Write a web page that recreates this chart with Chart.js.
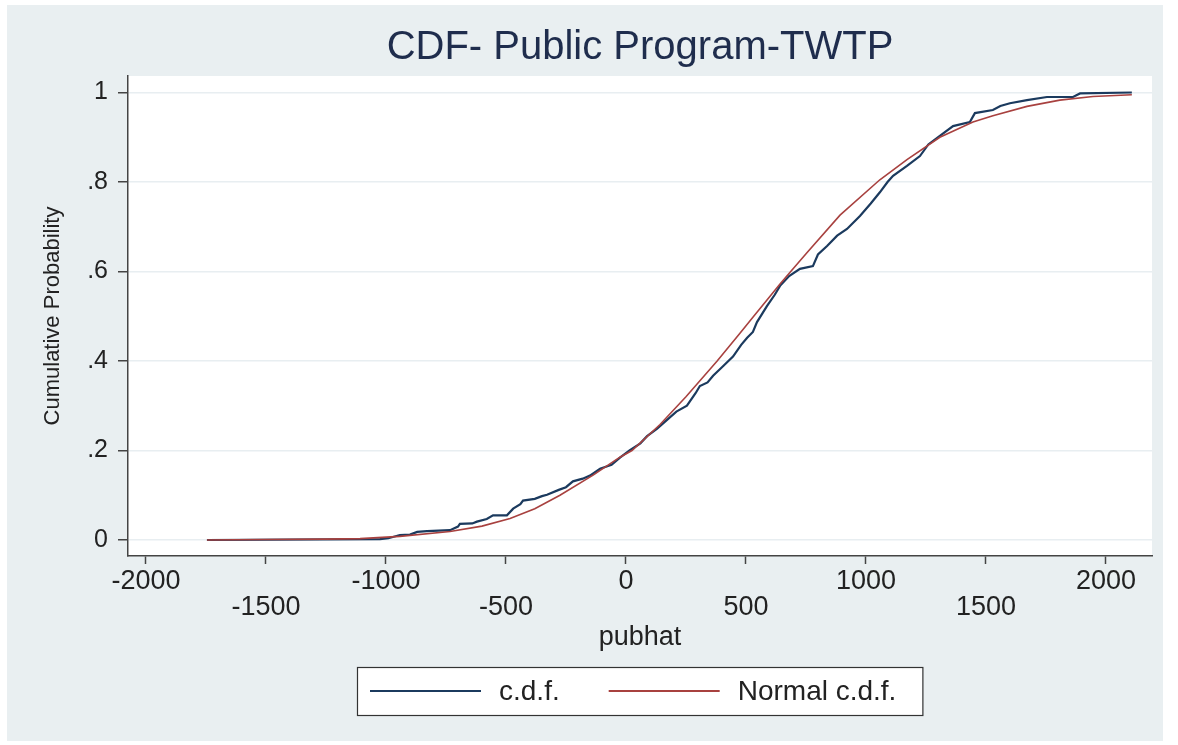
<!DOCTYPE html>
<html>
<head>
<meta charset="utf-8">
<title>CDF- Public Program-TWTP</title>
<script src="https://cdn.jsdelivr.net/npm/chart.js@4.4.1/dist/chart.umd.min.js"></script>
<style>
  html, body { margin: 0; padding: 0; background: #fff; }
  #wrap {
    position: absolute; left: 7px; top: 5px;
    width: 1156px; height: 736px;
    background: #e9eff1;
  }
</style>
</head>
<body>
<div id="wrap"><canvas id="cdfChart" width="1156" height="736"></canvas></div>
<script>
// tick values
const xTicks = [-2000, -1500, -1000, -500, 0, 500, 1000, 1500, 2000];
const yTicks = [0, 0.2, 0.4, 0.6, 0.8, 1];

const cdfX = [-1746, -1025, -990, -942, -900, -870, -829, -733, -700, -692, -640, -621, -580, -554, -496,
  -470, -440, -429, -380, -350, -329, -280, -250, -221, -180, -150, -108, -60, -25, 15, 60, 88, 130,
  170, 210, 254, 290, 308, 340, 363, 400, 446, 480, 505, 529, 546, 588, 620, 642, 680, 725, 779, 800,
  838, 880, 921, 975, 1020, 1058, 1090, 1113, 1171, 1225, 1260, 1308, 1363, 1433, 1454, 1529, 1560,
  1600, 1671, 1754, 1863, 1892, 2108];
const cdfY = [0, 0.002, 0.004, 0.011, 0.012, 0.018, 0.020, 0.022, 0.030, 0.036, 0.037, 0.041, 0.047, 0.055, 0.055,
  0.070, 0.080, 0.088, 0.092, 0.098, 0.101, 0.112, 0.118, 0.131, 0.137, 0.144, 0.159, 0.168, 0.184, 0.200, 0.216, 0.232, 0.249,
  0.268, 0.287, 0.300, 0.328, 0.344, 0.352, 0.367, 0.386, 0.410, 0.436, 0.452, 0.465, 0.487, 0.523, 0.548, 0.568, 0.590, 0.606, 0.612, 0.638,
  0.657, 0.680, 0.695, 0.724, 0.752, 0.777, 0.800, 0.814, 0.836, 0.858, 0.884, 0.903, 0.925, 0.934, 0.954, 0.961, 0.970,
  0.976, 0.983, 0.990, 0.990, 0.998, 1.000];

// normal c.d.f. curve
const normX = [-1746, -1500, -1250, -1108, -942, -733, -600, -483, -380, -275, -137, -25, 25, 142, 250, 380,
  475, 529, 642, 683, 754, 892, 1058, 1171, 1308, 1446, 1529, 1671, 1808, 1946, 2108];
const normY = [0, 0.001, 0.002, 0.003, 0.008, 0.019, 0.031, 0.048, 0.070, 0.100, 0.145, 0.185, 0.200, 0.258, 0.320, 0.400,
  0.462, 0.498, 0.572, 0.598, 0.642, 0.726, 0.805, 0.850, 0.900, 0.934, 0.948, 0.969, 0.983, 0.991, 0.995];

const FONT = '"Liberation Sans", Arial, sans-serif';
const NAVY = '#1b3a5e';
const MAROON = '#a8413f';

const toPoints = (xs, ys) => xs.map((x, i) => ({ x: x, y: ys[i] }));

// white plot region
const plotRegion = {
  id: 'plotRegion',
  beforeDraw(chart) {
    const { ctx, chartArea } = chart;
    ctx.save();
    ctx.fillStyle = '#fff';
    ctx.fillRect(chartArea.left, chartArea.top, chartArea.right - chartArea.left, chartArea.bottom - chartArea.top);
    ctx.restore();
  }
};

// Stata style boxed legend under the x axis
const boxLegend = {
  id: 'boxLegend',
  afterDraw(chart) {
    const { ctx, chartArea, scales } = chart;
    ctx.save();
    ctx.font = '28px ' + FONT;
    const items = chart.data.datasets.map(ds => ({
      label: ds.label, color: ds.borderColor, w: ctx.measureText(ds.label).width
    }));
    const padL = 13, padR = 26, sample = 111, gap = 18, itemGap = 49, h = 48;
    let width = padL + padR;
    items.forEach((it, i) => { width += sample + gap + it.w + (i ? itemGap : 0); });
    const left = Math.round((chartArea.left + chartArea.right) / 2 - width / 2);
    const top = Math.round(scales.x.bottom + 1);

    ctx.fillStyle = '#fff';
    ctx.fillRect(left, top, width, h);
    ctx.strokeStyle = '#333';
    ctx.lineWidth = 1.2;
    ctx.strokeRect(left + 0.5, top + 0.5, width, h);

    let x = left + padL;
    const cy = top + h / 2;
    items.forEach((it, i) => {
      if (i) x += itemGap;
      ctx.strokeStyle = it.color;
      ctx.lineWidth = 2;
      ctx.beginPath();
      ctx.moveTo(x, cy);
      ctx.lineTo(x + sample, cy);
      ctx.stroke();
      x += sample + gap;
      ctx.fillStyle = '#222';
      ctx.textBaseline = 'middle';
      ctx.fillText(it.label, x, cy + 1);
      x += it.w;
    });
    ctx.restore();
  }
};

const ctx = document.getElementById('cdfChart').getContext('2d');
new Chart(ctx, {
  type: 'scatter',
  data: {
    datasets: [
      {
        label: 'c.d.f.',
        data: toPoints(cdfX, cdfY),
        showLine: true,
        borderColor: NAVY,
        backgroundColor: NAVY,
        borderWidth: 2.2,
        pointRadius: 0,
        order: 1
      },
      {
        label: 'Normal c.d.f.',
        data: toPoints(normX, normY),
        showLine: true,
        borderColor: MAROON,
        backgroundColor: MAROON,
        borderWidth: 1.6,
        pointRadius: 0,
        order: 0
      }
    ]
  },
  options: {
    responsive: false,
    animation: false,
    layout: { padding: { left: 0, right: 11, top: 0, bottom: 75 } },
    plugins: {
      legend: { display: false },
      tooltip: { enabled: false },
      title: {
        display: true,
        text: 'CDF- Public Program-TWTP',
        fullSize: false,
        color: '#1f2d4d',
        font: { family: FONT, size: 40, weight: 'normal' },
        padding: { top: 19, bottom: 4 }
      }
    },
    scales: {
      x: {
        type: 'linear',
        min: -2075,
        max: 2192,
        afterBuildTicks: axis => { axis.ticks = xTicks.map(v => ({ value: v })); },
        afterFit: axis => { axis.height = 110; },
        grid: { drawOnChartArea: false, drawTicks: true, tickLength: 8, tickColor: '#444', tickWidth: 1.5 },
        border: { display: true, color: '#444', width: 1.5 },
        ticks: {
          color: '#222',
          padding: 5,
          maxRotation: 0,
          autoSkip: false,
          font: { family: FONT, size: 27, lineHeight: '26px' },
          // stagger the labels on two rows like Stata does
          callback: (v, i) => (i % 2 === 0 ? String(v) : ['', String(v)])
        },
        title: {
          display: true,
          text: 'pubhat',
          color: '#222',
          font: { family: FONT, size: 27 },
          padding: { top: 0, bottom: 12 }
        }
      },
      y: {
        type: 'linear',
        min: -0.0358,
        max: 1.0369,
        afterBuildTicks: axis => { axis.ticks = yTicks.map(v => ({ value: v })); },
        afterFit: axis => { axis.width = 121; },
        grid: { color: '#e8eef1', lineWidth: 1.5, drawTicks: true, tickLength: 10, tickColor: '#444', tickWidth: 1.5 },
        border: { display: true, color: '#444', width: 1.5 },
        ticks: {
          color: '#222',
          padding: 10,
          font: { family: FONT, size: 25 },
          callback: v => (v === 0 || v === 1 ? String(v) : String(+v.toFixed(1)).replace('0.', '.'))
        },
        title: {
          display: true,
          text: 'Cumulative Probability',
          color: '#222',
          font: { family: FONT, size: 22 },
          padding: { top: 33, bottom: 0 }
        }
      }
    }
  },
  plugins: [plotRegion, boxLegend]
});
</script>
</body>
</html>
